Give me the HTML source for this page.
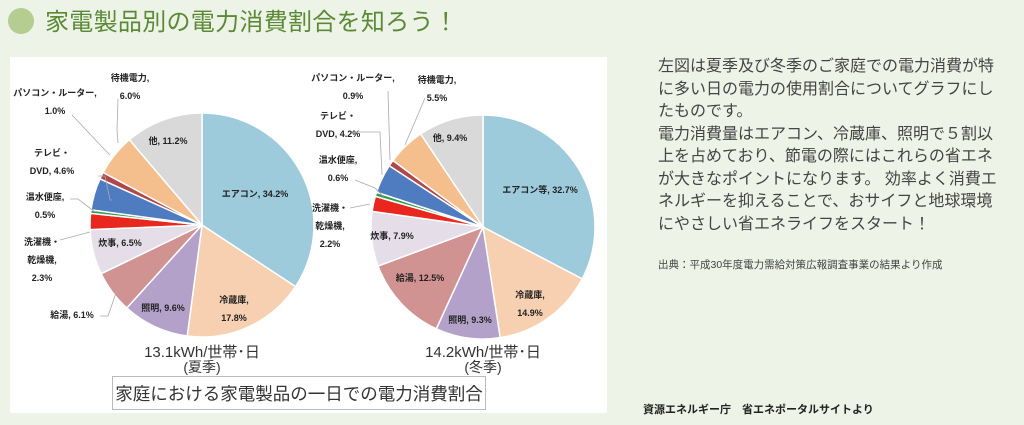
<!DOCTYPE html>
<html><head><meta charset="utf-8">
<style>
html,body{margin:0;padding:0;}
body{width:1024px;height:425px;background:#eef3e7;position:relative;overflow:hidden;font-family:"Liberation Sans","Noto Sans CJK JP",sans-serif;}
#title{position:absolute;left:45px;top:2px;font-size:24px;color:#5b8a37;letter-spacing:0.3px;white-space:nowrap;}
#dot{position:absolute;left:8px;top:8px;width:26px;height:26px;border-radius:50%;background:#b5cd91;}
#panel{position:absolute;left:10px;top:57px;width:597px;height:356px;background:#fff;}
#desc{position:absolute;left:658px;top:56px;width:350px;font-size:16px;line-height:22.5px;color:#444;}
#src{position:absolute;left:658px;top:257px;font-size:10.5px;color:#444;white-space:nowrap;}
#foot{position:absolute;left:643px;top:401px;font-size:11px;font-weight:bold;color:#222;white-space:nowrap;}
</style></head><body>
<div id="dot"></div>
<div id="title">家電製品別の電力消費割合を知ろう！</div>
<div id="panel"></div>
<svg id="chart" width="1024" height="425" style="position:absolute;left:0;top:0"></svg>
<div id="desc">左図は夏季及び冬季のご家庭での電力消費が特に多い日の電力の使用割合についてグラフにしたものです。<br>電力消費量はエアコン、冷蔵庫、照明で５割以上を占めており、節電の際にはこれらの省エネが大きなポイントになります。 効率よく消費エネルギーを抑えることで、おサイフと地球環境にやさしい省エネライフをスタート！</div>
<div id="src">出典：平成30年度電力需給対策広報調査事業の結果より作成</div>
<div id="foot">資源エネルギー庁　省エネポータルサイトより</div>
<script>
const categoriesSummer = ["エアコン","冷蔵庫","照明","給湯","炊事","洗濯機・乾燥機","温水便座","テレビ・DVD","パソコン・ルーター","待機電力","他"];
const categoriesWinter = ["エアコン等","冷蔵庫","照明","給湯","炊事","洗濯機・乾燥機","温水便座","テレビ・DVD","パソコン・ルーター","待機電力","他"];
const summerValues = [34.2,17.8,9.6,6.1,6.5,2.3,0.5,4.6,1.0,6.0,11.2];
const winterValues = [32.7,14.9,9.3,12.5,7.9,2.2,0.6,4.2,0.9,5.5,9.4];
const sliceColors = ["#9dcbdc","#f6d0b0","#b3a1c9","#d19392","#e5dee9","#e8281e","#2f9e4c","#4f7cc0","#b0484a","#f4be8d","#d9d9d9"];
const totals = ["13.1kWh/世帯･日","14.2kWh/世帯･日"];
const seasons = ["(夏季)","(冬季)"];

const NS="http://www.w3.org/2000/svg";
const svg=document.getElementById('chart');
function mk(tag,attrs,parent){const e=document.createElementNS(NS,tag);for(const k in attrs)e.setAttribute(k,attrs[k]);(parent||svg).appendChild(e);return e;}
function txt(x,y,s,size,weight,anchor,fill){const t=mk('text',{x:x,y:y,'font-size':size,'font-weight':weight||'normal','text-anchor':anchor||'middle',fill:fill||'#222','font-family':'"Liberation Sans","Noto Sans CJK JP",sans-serif'});t.textContent=s;return t;}

function drawPie(values,cx,cy,r,name){
  const total=values.reduce((a,b)=>a+b,0);
  let a0=-Math.PI/2;
  const g=mk('g',{});
  
  
  values.forEach((v,i)=>{
    const a1=a0+v/total*2*Math.PI;
    const large=(a1-a0)>Math.PI?1:0;
    const d=`M${cx},${cy} L${cx+r*Math.cos(a0)},${cy+r*Math.sin(a0)} A${r},${r} 0 ${large} 1 ${cx+r*Math.cos(a1)},${cy+r*Math.sin(a1)} Z`;
    const p=mk('path',{d:d,fill:sliceColors[i],stroke:'#fff','stroke-width':1.5},g);
    
    
    a0=a1;
  });
}

function label(lines,x,y,name){
  lines.forEach((l,k)=>{
    const t=txt(x,y+k*18,l,9,'bold');
    
    
  });
}
function lead(pts){mk('polyline',{points:pts,fill:'none',stroke:'#aaa','stroke-width':0.8});}

const p1={cx:202,cy:225,r:112};
drawPie(summerValues,p1.cx,p1.cy,p1.r,'summer-pie');
const sv=summerValues.map(v=>v.toFixed(1)+'%');
label(["エアコン, "+sv[0]],255,197,'label-aircon-summer');
label(["冷蔵庫,",sv[1]],234,303,'label-fridge-summer');
label(["照明, "+sv[2]],163,311,'label-light-summer');
label(["給湯, "+sv[3]],72,318,'label-water-summer');
label(["炊事, "+sv[4]],120,246,'label-cooking-summer');
label(["洗濯機・","乾燥機,",sv[5]],42,245,'label-washer-summer');
label(["温水便座,",sv[6]],45,200,'label-toilet-summer');
label(["テレビ・","DVD, "+sv[7]],52,156,'label-tv-summer');
label(["パソコン・ルーター,",sv[8]],55,96,'label-pc-summer');
label(["待機電力,",sv[9]],130,81,'label-standby-summer');
label(["他, "+sv[10]],168,144,'label-other-summer');
lead("98,176 105,176 110,200 112,200");
lead("70,199 78,199 95,212");
lead("60,240 90,232");
lead("100,316 108,316 117,290");
lead("72,115 105,150 110,155");
lead("118,99 117,130 118,143");

const p2={cx:483,cy:227,r:112};
drawPie(winterValues,p2.cx,p2.cy,p2.r,'winter-pie');
const wv=winterValues.map(v=>v.toFixed(1)+'%');
label(["エアコン等, "+wv[0]],540,193,'label-aircon-winter');
label(["冷蔵庫,",wv[1]],530,298,'label-fridge-winter');
label(["照明, "+wv[2]],470,323,'label-light-winter');
label(["給湯, "+wv[3]],420,281,'label-water-winter');
label(["炊事, "+wv[4]],392,239,'label-cooking-winter');
label(["洗濯機・","乾燥機,",wv[5]],330,211,'label-washer-winter');
label(["温水便座,",wv[6]],338,163,'label-toilet-winter');
label(["テレビ・","DVD, "+wv[7]],338,119,'label-tv-winter');
label(["パソコン・ルーター,",wv[8]],353,81,'label-pc-winter');
label(["待機電力,",wv[9]],437,83,'label-standby-winter');
label(["他, "+wv[10]],450,141,'label-other-winter');
lead("355,132 380,132 382,175");
lead("355,180 375,188 383,196");
lead("350,208 370,204");
lead("388,91 390,160");
lead("425,98 405,145");

[[p1.cx,0],[p2.cx,1]].forEach(([x,i])=>{
  const a=txt(x,357,totals[i],15,'normal','middle','#333');
  
  
  const b=txt(x,372,seasons[i],14,'normal','middle','#333');
  
  
});
const box=mk('rect',{x:112.5,y:376.5,width:373,height:33,fill:'#fff',stroke:'#bbb','stroke-width':1});


const cap=txt(299,400,'家庭における家電製品の一日での電力消費割合',17.5,'normal','middle','#333');


</script>
</body></html>
